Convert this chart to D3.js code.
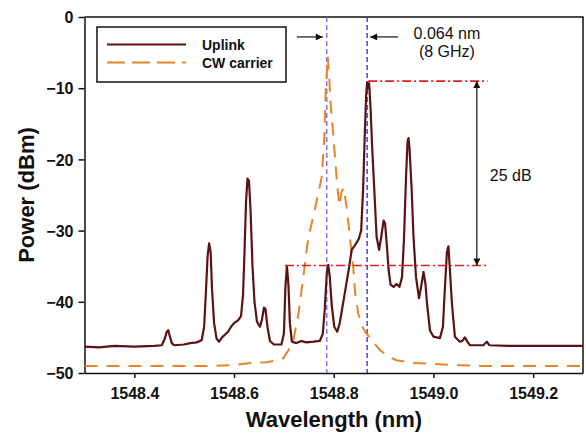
<!DOCTYPE html>
<html>
<head>
<meta charset="utf-8">
<script src="https://cdn.jsdelivr.net/npm/d3@7"></script>
<style>
  body { margin: 0; background: #fff; }
  svg { font-family: Arial, "Liberation Sans", sans-serif; }
</style>
</head>
<body>
<svg id="chart" width="586" height="435"></svg>
<script>
// wavelength (nm) / power (dBm)
const uplinkWl = [1548.300, 1548.330, 1548.360, 1548.400, 1548.440, 1548.455, 1548.461, 1548.465, 1548.468, 1548.471,
  1548.475, 1548.480, 1548.500, 1548.512, 1548.525, 1548.535, 1548.540, 1548.544, 1548.547, 1548.550,
  1548.553, 1548.556, 1548.560, 1548.565, 1548.570, 1548.576, 1548.582, 1548.588, 1548.594, 1548.600,
  1548.608, 1548.614, 1548.618, 1548.621, 1548.624, 1548.627, 1548.630, 1548.633, 1548.637, 1548.641,
  1548.646, 1548.652, 1548.656, 1548.660, 1548.663, 1548.667, 1548.672, 1548.680, 1548.695, 1548.700,
  1548.703, 1548.706, 1548.709, 1548.712, 1548.716, 1548.725, 1548.735, 1548.745, 1548.760, 1548.772,
  1548.778, 1548.782, 1548.786, 1548.789, 1548.792, 1548.796, 1548.801, 1548.807, 1548.812, 1548.818,
  1548.824, 1548.830, 1548.836, 1548.843, 1548.850, 1548.855, 1548.859, 1548.862, 1548.865, 1548.867,
  1548.869, 1548.871, 1548.874, 1548.877, 1548.881, 1548.886, 1548.891, 1548.895, 1548.900, 1548.903,
  1548.907, 1548.910, 1548.914, 1548.920, 1548.926, 1548.932, 1548.937, 1548.941, 1548.945, 1548.948,
  1548.950, 1548.952, 1548.956, 1548.960, 1548.965, 1548.971, 1548.975, 1548.980, 1548.984, 1548.987,
  1548.993, 1549.000, 1549.013, 1549.019, 1549.023, 1549.027, 1549.030, 1549.033, 1549.037, 1549.043,
  1549.053, 1549.058, 1549.063, 1549.068, 1549.073, 1549.100, 1549.107, 1549.112, 1549.150, 1549.200,
  1549.250, 1549.300];
const uplinkDb = [-46.3, -46.4, -46.2, -46.3, -46.2, -46.1, -45.2, -44.2, -44.0, -44.8,
  -45.8, -46.1, -46.0, -45.8, -45.7, -45.4, -43.5, -38.0, -33.5, -31.8,
  -33.0, -38.5, -43.0, -45.2, -45.6, -45.0, -44.6, -44.2, -43.5, -43.0,
  -42.6, -42.0, -39.0, -33.0, -26.0, -22.7, -23.0, -27.0, -35.0, -40.0,
  -42.8, -43.5, -42.5, -40.8, -41.0, -43.5, -45.5, -46.0, -46.0, -44.5,
  -38.0, -35.0, -37.5, -43.0, -45.6, -45.8, -45.5, -45.7, -45.6, -45.5,
  -44.5, -41.0, -36.0, -34.8, -36.5, -40.5, -43.5, -44.2, -43.0, -40.5,
  -38.0, -35.5, -32.7, -32.0, -31.2, -30.0, -24.0, -17.0, -11.0, -9.2,
  -10.0, -9.3, -13.0, -18.2, -23.8, -30.9, -32.7, -31.0, -28.6, -29.0,
  -32.5, -35.5, -37.6, -37.9, -37.5, -37.9, -36.5, -31.0, -22.5, -17.5,
  -17.0, -18.5, -23.8, -30.9, -36.5, -39.5, -38.0, -35.8, -37.5, -40.2,
  -44.0, -44.9, -45.1, -43.5, -38.0, -33.0, -32.2, -35.5, -40.2, -44.9,
  -45.6, -45.5, -45.0, -45.6, -46.1, -46.1, -45.6, -46.1, -46.2, -46.2,
  -46.2, -46.2];

const cwWl = [1548.300, 1548.400, 1548.500, 1548.560, 1548.600, 1548.632, 1548.665, 1548.686, 1548.699, 1548.709,
  1548.719, 1548.729, 1548.739, 1548.749, 1548.759, 1548.769, 1548.776, 1548.781, 1548.784, 1548.788,
  1548.791, 1548.794, 1548.799, 1548.805, 1548.811, 1548.816, 1548.820, 1548.826, 1548.833, 1548.839,
  1548.843, 1548.849, 1548.856, 1548.863, 1548.876, 1548.893, 1548.910, 1548.926, 1548.959, 1548.993,
  1549.050, 1549.100, 1549.200, 1549.300];
const cwDb = [-49.0, -49.0, -49.0, -49.0, -48.9, -48.6, -48.5, -48.2, -47.9, -46.8,
  -45.4, -41.8, -36.5, -31.0, -28.0, -24.8, -22.4, -17.0, -10.0, -5.6,
  -8.5, -12.5, -16.5, -22.0, -26.5, -24.5, -24.0, -26.8, -31.3, -35.1,
  -38.8, -41.6, -43.3, -44.2, -45.4, -46.8, -47.7, -48.2, -48.6, -48.7,
  -48.9, -49.0, -49.0, -49.0];

const seriesNames = ["Uplink", "CW carrier"];
const xTicks = [1548.4, 1548.6, 1548.8, 1549.0, 1549.2];
const yTicks = [0, -10, -20, -30, -40, -50];

// annotation values (data units)
const markerWl = [1548.786, 1548.867];      // blue dashed lines
const levelDb = [-9.0, -34.9];              // red dash-dot levels
const levelStartWl = [1548.869, 1548.702];
const levelEndWl = 1549.109;
const gapArrowWl = 1549.087;

const margin = {top: 17, right: 3, bottom: 62, left: 84.5};
const W = 586, H = 435;
const svg = d3.select("#chart");

const x = d3.scaleLinear().domain([1548.3, 1549.3]).range([margin.left, W - margin.right]);
const y = d3.scaleLinear().domain([-50, 0]).range([H - margin.bottom, margin.top]);

const defs = svg.append("defs");
defs.append("marker").attr("id", "arr")
  .attr("viewBox", "0 0 10 10").attr("refX", 10).attr("refY", 5)
  .attr("markerWidth", 9).attr("markerHeight", 7).attr("markerUnits", "userSpaceOnUse")
  .attr("orient", "auto-start-reverse")
  .append("path").attr("d", "M0,0 L10,5 L0,10 z").attr("fill", "#111");

defs.append("clipPath").attr("id", "clip").append("rect")
  .attr("x", x.range()[0]).attr("y", y.range()[1])
  .attr("width", x.range()[1] - x.range()[0]).attr("height", y.range()[0] - y.range()[1]);

// axes
const xAxis = svg.append("g")
  .attr("transform", "translate(0," + y(-50) + ")")
  .call(d3.axisBottom(x).tickValues(xTicks).tickFormat(d3.format(".1f")).tickSize(5).tickSizeOuter(0));
const yAxis = svg.append("g")
  .attr("transform", "translate(" + x(1548.3) + ",0)")
  .call(d3.axisLeft(y).tickValues(yTicks).tickFormat(d3.format("d")).tickSize(6).tickSizeOuter(0));
[xAxis, yAxis].forEach(function(a) {
  a.selectAll("path, line").attr("stroke", "#111").attr("stroke-width", 1.5);
  a.selectAll("text").attr("font-size", 16).attr("font-weight", "bold").attr("fill", "#111")
    .attr("font-family", "Arial, 'Liberation Sans', sans-serif");
});
xAxis.selectAll("text").attr("dy", "1.1em");
yAxis.selectAll("text").attr("x", -11).attr("dy", "0.36em");

// frame top and right
svg.append("path")
  .attr("d", "M" + x(1548.3) + "," + y(0) + "H" + x(1549.3) + "V" + y(-50))
  .attr("fill", "none").attr("stroke", "#111").attr("stroke-width", 1.5);

const plot = svg.append("g").attr("clip-path", "url(#clip)");
const line = d3.line().x(d => x(d[0])).y(d => y(d[1]));

// blue marker lines
plot.selectAll(".marker").data(markerWl).enter().append("line")
  .attr("x1", d => x(d)).attr("x2", d => x(d))
  .attr("y1", y(0)).attr("y2", y(-50))
  .attr("stroke", (d, i) => i === 0 ? "#7b6cf0" : "#3a32e0")
  .attr("stroke-width", 1.4).attr("stroke-dasharray", "5,3");

// CW carrier
plot.append("path")
  .datum(d3.zip(cwWl, cwDb))
  .attr("d", line).attr("fill", "none")
  .attr("stroke", "#e5842a").attr("stroke-width", 2)
  .attr("stroke-dasharray", "13,9");

// Uplink
plot.append("path")
  .datum(d3.zip(uplinkWl, uplinkDb))
  .attr("d", line).attr("fill", "none")
  .attr("stroke", "#5a1214").attr("stroke-width", 2.2)
  .attr("stroke-linejoin", "round");

// red dash-dot levels
plot.selectAll(".level").data(levelDb).enter().append("line")
  .attr("x1", (d, i) => x(levelStartWl[i])).attr("x2", x(levelEndWl))
  .attr("y1", d => y(d)).attr("y2", d => y(d))
  .attr("stroke", "#e0201c").attr("stroke-width", 1.6)
  .attr("stroke-dasharray", "9,3,2,3");

// 25 dB double arrow
svg.append("line")
  .attr("x1", x(gapArrowWl)).attr("x2", x(gapArrowWl))
  .attr("y1", y(levelDb[0])).attr("y2", y(levelDb[1]))
  .attr("stroke", "#111").attr("stroke-width", 1.2)
  .attr("marker-start", "url(#arr)").attr("marker-end", "url(#arr)");
svg.append("text").attr("x", x(1549.113)).attr("y", y(-23.0))
  .attr("font-size", 16).attr("fill", "#111").text("25 dB");

// spacing arrows
svg.append("line")
  .attr("x1", x(1548.726)).attr("x2", x(1548.778))
  .attr("y1", y(-2.8)).attr("y2", y(-2.8))
  .attr("stroke", "#111").attr("stroke-width", 1.2).attr("marker-end", "url(#arr)");
svg.append("line")
  .attr("x1", x(1548.929)).attr("x2", x(1548.873))
  .attr("y1", y(-2.8)).attr("y2", y(-2.8))
  .attr("stroke", "#111").attr("stroke-width", 1.2).attr("marker-end", "url(#arr)");
svg.append("text").attr("x", x(1549.027)).attr("y", y(-3.1))
  .attr("font-size", 16).attr("text-anchor", "middle").attr("fill", "#111").text("0.064 nm");
svg.append("text").attr("x", x(1549.027)).attr("y", y(-5.6))
  .attr("font-size", 16).attr("text-anchor", "middle").attr("fill", "#111").text("(8 GHz)");

// legend
const lg = svg.append("g");
lg.append("rect").attr("x", 97).attr("y", 27).attr("width", 189).attr("height", 55)
  .attr("fill", "#fff").attr("stroke", "#111").attr("stroke-width", 1.5);
lg.append("line").attr("x1", 107).attr("x2", 186).attr("y1", 44.5).attr("y2", 44.5)
  .attr("stroke", "#5a1214").attr("stroke-width", 2.2);
lg.append("line").attr("x1", 107).attr("x2", 186).attr("y1", 62.5).attr("y2", 62.5)
  .attr("stroke", "#e5842a").attr("stroke-width", 2).attr("stroke-dasharray", "18,7");
lg.selectAll("text").data(seriesNames).enter().append("text")
  .attr("x", 202).attr("y", (d, i) => 50 + i * 17.5)
  .attr("font-size", 14).attr("font-weight", "bold").attr("fill", "#111")
  .text(d => d);

// axis titles
svg.append("text").attr("x", 334).attr("y", 427)
  .attr("text-anchor", "middle").attr("font-size", 22).attr("font-weight", "bold")
  .attr("fill", "#111").text("Wavelength (nm)");
svg.append("text").attr("transform", "translate(34,195) rotate(-90)")
  .attr("text-anchor", "middle").attr("font-size", 22).attr("font-weight", "bold")
  .attr("fill", "#111").text("Power (dBm)");
</script>
</body>
</html>
